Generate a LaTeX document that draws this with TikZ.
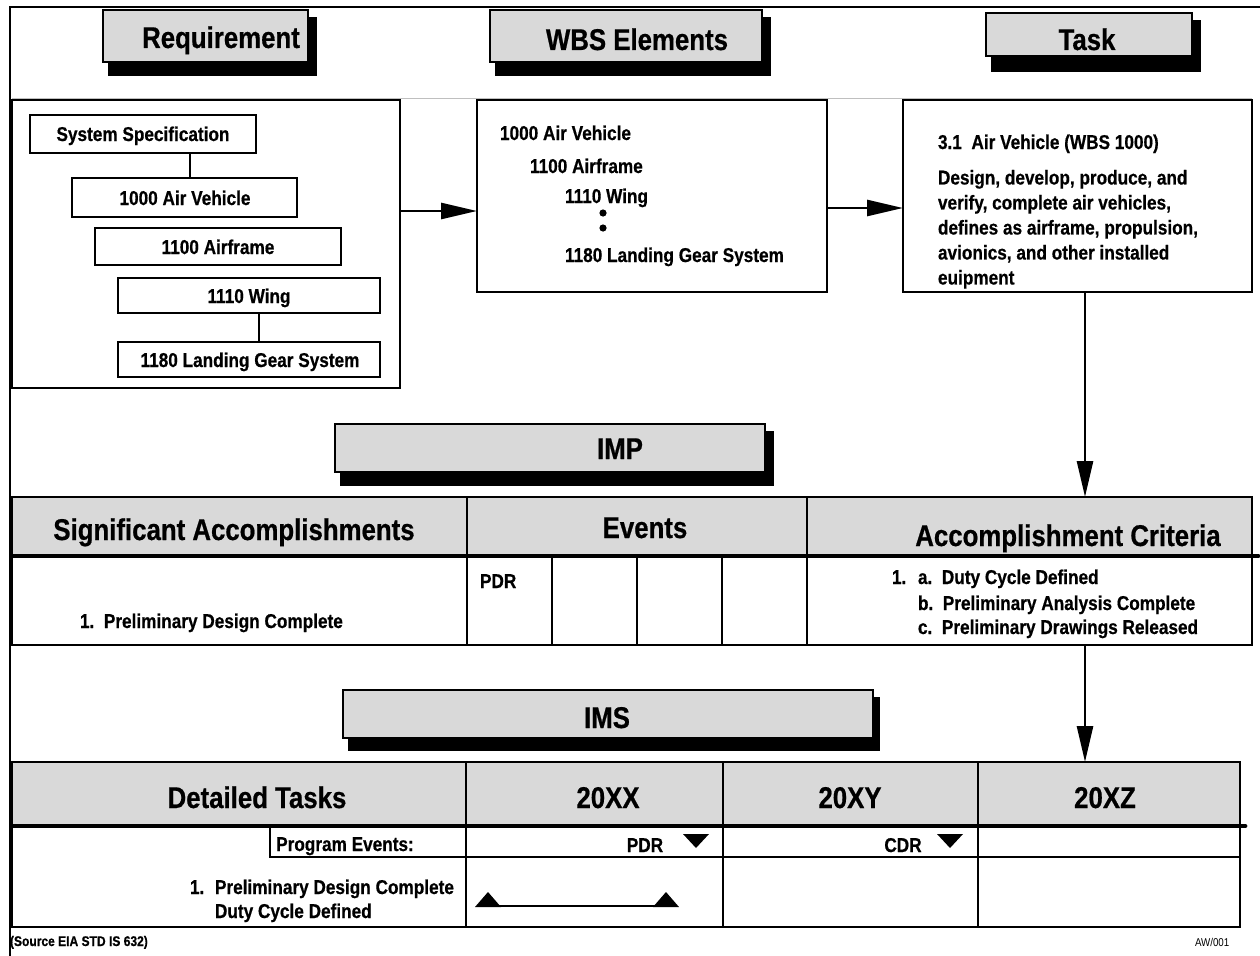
\documentclass[tikz,border=0pt]{standalone}
\usepackage{fontspec}
\newfontfamily\lsans{Liberation Sans}[FakeStretch=0.86, BoldFeatures={FakeBold=0.6}]
\usetikzlibrary{arrows.meta,fit}

\begin{document}
\begin{tikzpicture}[x=0.75pt,y=-0.75pt,
  every node/.style={inner sep=0pt, outer sep=0pt},
  rule/.style={line width=2.2pt},
  heavy/.style={line width=3.6pt, line cap=round},
  panel/.style={draw, line width=2.2pt, fit={#1}, inner sep=0pt},
  itembox/.style={draw, line width=2pt, fit={#1}, inner sep=0pt},
  titlebox/.style={draw, line width=2pt, fill=black!15, fit={#1}, inner sep=0pt},
  shade/.style={fill=black!15},
  shadowfill/.style={fill=black},
  title/.style={anchor=base, font=\lsans\bfseries\fontsize{22.5}{26}\selectfont},
  small/.style={anchor=base west, font=\lsans\bfseries\fontsize{15}{18}\selectfont},
  smallc/.style={anchor=base, font=\lsans\bfseries\fontsize{15}{18}\selectfont},
  para/.style={anchor=north west, align=left,
    font=\lsans\bfseries\fontsize{15}{18.75}\selectfont},
  note/.style={anchor=base west, font=\lsans\bfseries\fontsize{10.5}{12}\selectfont},
  arr/.style={-{Triangle[length=27pt,width=12pt]}, line width=2pt},
  tick/.style={line width=1.6pt},
  solidmark/.style={fill=black}
]
\useasboundingbox (0,0) rectangle (1260,956);

% page frame
\draw[rule] (10,956) -- (10,7) -- (1260,7);
\draw[black!25, line width=0.5pt] (12,98) -- (1252,98);

% ---------- title tabs of the upper row ----------
\fill[shadowfill] (108,17) rectangle (317,76);
\node[titlebox={(103,10) (308,62)}] (hreq) {};
\node[title] (treq) at (221,48) {Requirement};

\fill[shadowfill] (495,17) rectangle (771,76);
\node[titlebox={(490,10) (762,62)}] (hwbs) {};
\node[title] (twbs) at (637,50) {WBS Elements};

\fill[shadowfill] (991,20) rectangle (1201,72);
\node[titlebox={(986,13) (1192,56)}] (htask) {};
\node[title] (ttask) at (1087,50) {Task};

% ---------- requirement tree ----------
\node[panel={(12,100) (400,388)}] (reqbox) {};
\node[itembox={(30,115) (256,153)}] (ss) {};
\node[itembox={(72,178) (297,217)}] (av) {};
\node[itembox={(95,228) (341,265)}] (af) {};
\node[itembox={(118,278) (380,313)}] (wing) {};
\node[itembox={(118,342) (380,377)}] (lgs) {};
\node[smallc] (ssl) at (143,141) {System Specification};
\node[smallc] (avl) at (185,205) {1000 Air Vehicle};
\node[smallc] (afl) at (218,254) {1100 Airframe};
\node[smallc] (wingl) at (249,303) {1110 Wing};
\node[smallc] (lgsl) at (250,367) {1180 Landing Gear System};
\coordinate (l1) at (190,0);
\coordinate (l2) at (259,0);
\draw[tick] (ss.south -| l1) -- (av.north -| l1);
\draw[tick] (wing.south -| l2) -- (lgs.north -| l2);

% ---------- WBS elements ----------
\node[panel={(477,100) (827,292)}] (wbsbox) {};
\node[small] (w1) at (500,140) {1000 Air Vehicle};
\node[small] (w2) at (530,173) {1100 Airframe};
\node[small] (w3) at (565,203) {1110 Wing};
\fill[solidmark] (603,213) circle (3.6);
\fill[solidmark] (603,228) circle (3.6);
\node[small] (w4) at (565,262) {1180 Landing Gear System};

% ---------- task statement ----------
\node[panel={(903,100) (1252,292)}] (taskbox) {};
\node[small] (t1) at (938,149) {3.1\ \ Air Vehicle (WBS 1000)};
\node[para] (t2) at (938,170) {Design, develop, produce, and\\
  verify, complete air vehicles,\\
  defines as airframe, propulsion,\\
  avionics, and other installed\\
  euipment};

\coordinate (a1) at (0,211);
\coordinate (a2) at (0,208);
\draw[arr] (reqbox.east |- a1) -- (wbsbox.west |- a1);
\draw[arr] (wbsbox.east |- a2) -- (taskbox.west |- a2);

% ---------- IMP ----------
\fill[shadowfill] (340,431) rectangle (774,486);
\node[titlebox={(335,424) (765,472)}] (himp) {};
\node[title] (timp) at (620,459) {IMP};

\fill[shade] (12,497) rectangle (1252,556);
\node[panel={(12,497) (1252,645)}] (imptab) {};
\draw[rule] (467,497) -- (467,645);
\draw[rule] (807,497) -- (807,645);
\foreach \xx in {552,637,722} \draw[tick] (\xx,556) -- (\xx,645);
\draw[heavy] (12,556) -- (1258,556);
\node[title] (c1) at (234,540) {Significant Accomplishments};
\node[title] (c2) at (645,538) {Events};
\node[title] (c3) at (1068,546) {Accomplishment Criteria};
\node[small] (sa1) at (80,628) {1.\ \ Preliminary Design Complete};
\node[small] (ev1) at (480,588) {PDR};
\node[small] (ac0) at (892,584) {1.};
\node[small] (ac1) at (918,584) {a.\ \ Duty Cycle Defined};
\node[small] (ac2) at (918,610) {b.\ \ Preliminary Analysis Complete};
\node[small] (ac3) at (918,634) {c.\ \ Preliminary Drawings Released};

% ---------- IMS ----------
\fill[shadowfill] (348,697) rectangle (880,751);
\node[titlebox={(343,690) (873,738)}] (hims) {};
\node[title] (tims) at (607,728) {IMS};

\fill[shade] (12,762) rectangle (1240,826);
\node[panel={(12,762) (1240,927)}] (imstab) {};
\foreach \xx in {466,723,978} \draw[rule] (\xx,762) -- (\xx,927);
\draw[heavy] (12,826) -- (1245,826);
\draw[tick] (270,826) -- (270,857) -- (1240,857);
\node[title] (d1) at (257,808) {Detailed Tasks};
\node[title] (d2) at (608,808) {20XX};
\node[title] (d3) at (850,808) {20XY};
\node[title] (d4) at (1105,808) {20XZ};
\node[smallc] (pe) at (345,851) {Program Events:};
\node[smallc] (pdr) at (645,852) {PDR};
\node[smallc] (cdr) at (903,852) {CDR};
\fill[solidmark] (683,834) -- (709,834) -- (696,848) -- cycle;
\fill[solidmark] (937,834) -- (963,834) -- (950,848) -- cycle;
\node[small] (dt0) at (190,894) {1.};
\node[small] (dt1) at (215,894) {Preliminary Design Complete};
\node[small] (dt2) at (215,918) {Duty Cycle Defined};
\draw[tick] (478,906) -- (677,906);
\fill[solidmark] (475,907) -- (501,907) -- (488,892) -- cycle;
\fill[solidmark] (653,907) -- (679,907) -- (666,892) -- cycle;

% ---------- flow down the right side ----------
\coordinate (ax) at (1085,0);
\draw[arr] (ax |- taskbox.south) -- (ax |- imptab.north);
\draw[arr] (ax |- imptab.south) -- (ax |- imstab.north);

% ---------- footer ----------
\node[note] (src) at (10,946) {(Source EIA STD IS 632)};
\node[anchor=base west, font=\lsans\fontsize{8.5}{10}\selectfont] (ref) at (1195,946) {AW/001};
\end{tikzpicture}
\end{document}
